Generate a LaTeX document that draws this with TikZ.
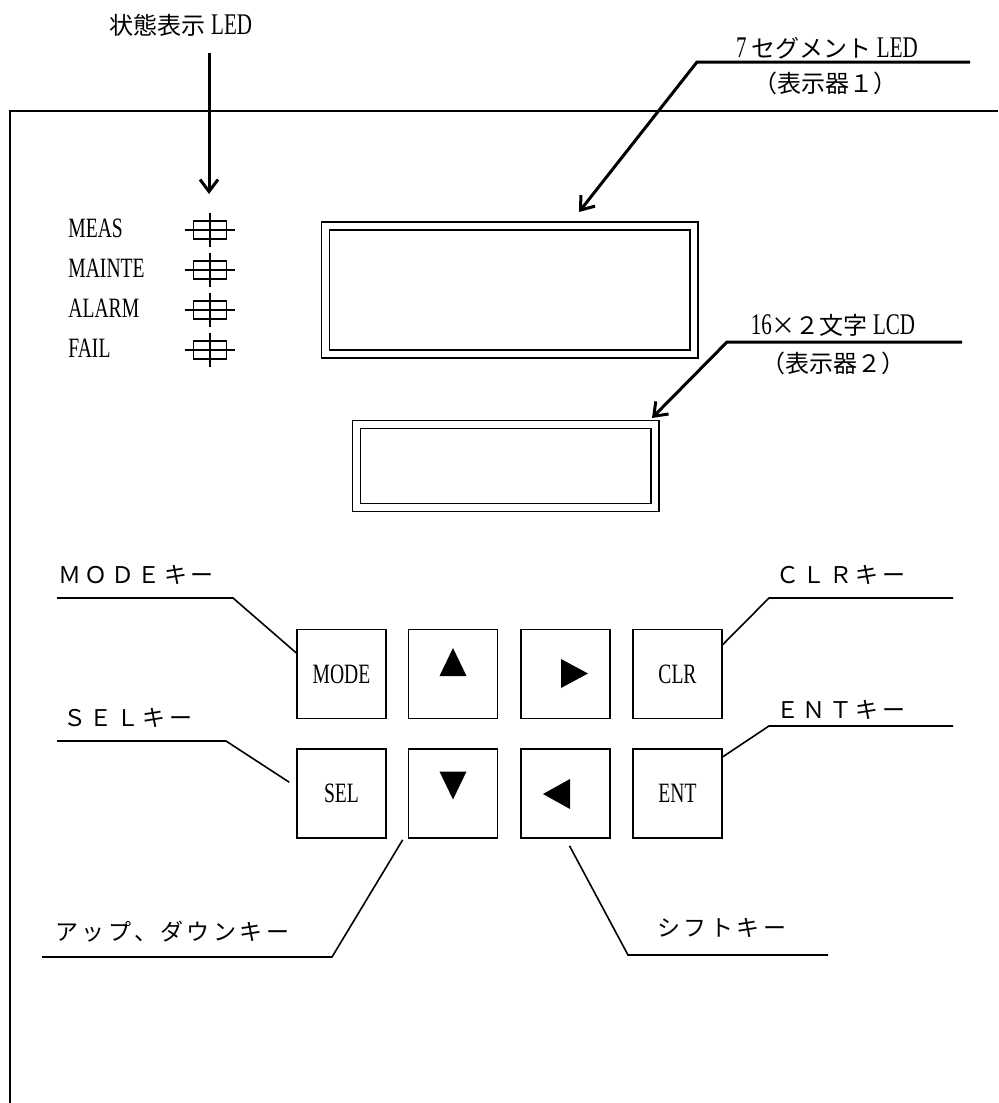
\documentclass[tikz,border=0pt]{standalone}
\usepackage{fontspec}
\setmainfont{Liberation Serif}[FakeStretch=0.7]
\newfontfamily\jpfont{Noto Sans CJK JP}
\newfontfamily\jpwide{Noto Sans CJK JP}[LetterSpace=15]
\usetikzlibrary{arrows.meta}

\newcommand\jp[1]{{\jpfont\fontsize{12}{14}\selectfont #1}}
\newcommand\jpkey[1]{{\jpwide\fontsize{11.5}{13}\selectfont #1}}

\tikzset{
  lbl/.style={inner sep=0pt, font=\fontsize{14}{16}\selectfont},
  keybox/.style={draw, line width=0.8pt, minimum width=44.5pt, minimum height=44.5pt, inner sep=0pt, font=\fontsize{14}{16}\selectfont},
  display/.style={draw, line width=0.75pt, double, double distance=3.25pt, inner sep=0pt},
  lamp/.style={draw, line width=0.8pt, minimum width=16.5pt, minimum height=9pt, inner sep=0pt},
  leader/.style={line width=0.8pt},
  pointer/.style={line width=1.5pt, -{Straight Barb[length=6pt,width=9pt]}},
}

\begin{document}
\begin{tikzpicture}[x=0.5pt,y=-0.5pt]
\useasboundingbox (0,0) rectangle (998,1103);
\draw[line width=1pt] (998,111) -- (10,111) -- (10,1103);

% status leds
\node[lbl, font=\fontsize{15}{17}\selectfont] (status) at (181,25) {\jp{状態表示} LED};
\foreach \name/\y in {MEAS/230, MAINTE/270, ALARM/310, FAIL/350}{
  \node[lbl, anchor=west] (lab-\name) at (68,\y-2) {\name};
  \node[lamp] (led-\name) at (210,\y) {};
  \draw[line width=0.8pt] ([xshift=-4pt]led-\name.west) -- ([xshift=4pt]led-\name.east);
  \draw[line width=0.8pt] ([yshift=3.75pt]led-\name.north) -- ([yshift=-3.75pt]led-\name.south);
}
\coordinate (status-a) at (209,53);
\coordinate (status-b) at (209,194);
\draw[pointer] (status-a) -- (status-b);

% displays
\node[display, minimum width=184.25pt, minimum height=64pt] (seg7) at (509.5,290) {};
\node[display, minimum width=149.25pt, minimum height=41.5pt] (lcd) at (505.75,466) {};

\node[lbl, font=\fontsize{15}{17}\selectfont] (seg7-t) at (827,48) {7\,\jp{セグメント} LED};
\node[lbl] (seg7-b) at (825,83) {\jp{（表示器１）}};
\coordinate (seg7-end) at (970,62);
\coordinate (seg7-tip) at (579,212);
\draw[pointer] (seg7-end) -- (697,62) -- (seg7-tip);

\node[lbl, font=\fontsize{15}{17}\selectfont] (lcd-t) at (833,325) {16\jp{×２文字} LCD};
\node[lbl] (lcd-b) at (833,363) {\jp{（表示器２）}};
\coordinate (lcd-end) at (962,342);
\coordinate (lcd-tip) at (652,418);
\draw[pointer] (lcd-end) -- (727,342) -- (lcd-tip);

% keys
\node[keybox] (kmode) at (341.5,674) {MODE};
\node[keybox] (kup) at (453,674) {};
\node[keybox] (kright) at (565.5,674) {};
\node[keybox] (kclr) at (677.5,674) {CLR};
\node[keybox] (ksel) at (341.5,793.5) {SEL};
\node[keybox] (kdown) at (453,793.5) {};
\node[keybox] (kleft) at (565.5,793.5) {};
\node[keybox] (kent) at (677.5,793.5) {ENT};

\fill ([shift={(0,-26)}]kup.center) -- ([shift={(-13.5,2)}]kup.center) -- ([shift={(13.5,2)}]kup.center) -- cycle;
\fill ([shift={(-13.5,-22)}]kdown.center) -- ([shift={(13.5,-22)}]kdown.center) -- ([shift={(0,6)}]kdown.center) -- cycle;
\fill ([shift={(-4.5,-15)}]kright.center) -- ([shift={(-4.5,14)}]kright.center) -- ([shift={(22.5,-0.5)}]kright.center) -- cycle;
\fill ([shift={(4.5,-14.5)}]kleft.center) -- ([shift={(4.5,15.5)}]kleft.center) -- ([shift={(-22.5,0.5)}]kleft.center) -- cycle;

% key labels
\node[lbl, anchor=west] (mode-lbl) at (58,575) {\jpkey{ＭＯＤＥキー}};
\node[lbl, anchor=west] (sel-lbl) at (63,718) {\jpkey{ＳＥＬキー}};
\node[lbl, anchor=west] (clr-lbl) at (776,575) {\jpkey{ＣＬＲキー}};
\node[lbl, anchor=west] (ent-lbl) at (776,710) {\jpkey{ＥＮＴキー}};
\node[lbl, anchor=west] (updown-lbl) at (55,932) {\jpkey{アップ、ダウンキー}};
\node[lbl, anchor=west] (shift-lbl) at (657,928) {\jpkey{シフトキー}};

\coordinate (mode-end) at (57,598);
\coordinate (sel-end) at (57,741);
\coordinate (clr-end) at (953,598);
\coordinate (ent-end) at (953,726);
\coordinate (updown-end) at (42,957);
\coordinate (shift-end) at (828,955);

\draw[leader] (kmode.155) -- (233,598) -- (mode-end);
\draw[leader] ([xshift=-3.5pt]ksel.166) -- (226,741) -- (sel-end);
\draw[leader] (kclr.33) -- (769,598) -- (clr-end);
\draw[leader] (kent.39) -- (769,726) -- (ent-end);
\draw[leader] ([shift={(-2.5pt,-0.5pt)}]kdown.south west) -- (332,957) -- (updown-end);
\draw[leader] ([shift={(2pt,-3.5pt)}]kleft.south) -- (628,955) -- (shift-end);
\end{tikzpicture}
\end{document}
